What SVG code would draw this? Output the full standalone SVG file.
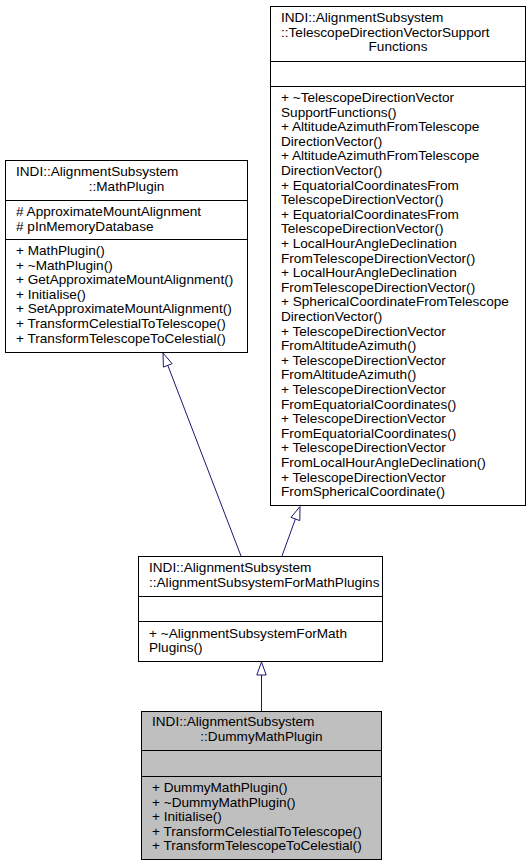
<svg xmlns="http://www.w3.org/2000/svg" width="531" height="867" viewBox="0 0 531 867">
<style>
text{font-family:"Liberation Sans",Arial,Helvetica,sans-serif;font-size:13.6px;fill:#000}
.box{fill:#fff;stroke:#000;stroke-width:1}
.cur{fill:#bfbfbf;stroke:#000;stroke-width:1}
.div{stroke:#000;stroke-width:1;fill:none}
.edge{stroke:#191970;stroke-width:1;fill:none}
.head{fill:#fff;stroke:#191970;stroke-width:1}
.mid{text-anchor:middle}
</style>
<rect width="531" height="867" fill="#fff"/>
<g id="edges">
<line class="edge" x1="241" y1="556" x2="167.8" y2="365.4"/>
<polygon class="head" points="163,353 172.1,363.7 163.4,367.1"/>
<line class="edge" x1="282" y1="556" x2="295.4" y2="519"/>
<polygon class="head" points="300,506.5 299.8,520.6 291,517.4"/>
<line class="edge" x1="261.5" y1="711" x2="261.5" y2="675"/>
<polygon class="head" points="261.5,662 266.2,675 256.8,675"/>
</g>
<g id="MathPlugin">
<rect class="box" x="5.5" y="160.5" width="242" height="192"/>
<line class="div" x1="5.5" y1="200.5" x2="247.5" y2="200.5"/>
<line class="div" x1="5.5" y1="239.5" x2="247.5" y2="239.5"/>
<text x="16" y="176">INDI::AlignmentSubsystem</text>
<text class="mid" x="126.5" y="190.6">::MathPlugin</text>
<text x="16" y="216"># ApproximateMountAlignment<tspan x="16" dy="14.6"># pInMemoryDatabase</tspan></text>
<text x="16" y="255">+ MathPlugin()<tspan x="16" dy="14.6">+ ~MathPlugin()</tspan><tspan x="16" dy="14.6">+ GetApproximateMountAlignment()</tspan><tspan x="16" dy="14.6">+ Initialise()</tspan><tspan x="16" dy="14.6">+ SetApproximateMountAlignment()</tspan><tspan x="16" dy="14.6">+ TransformCelestialToTelescope()</tspan><tspan x="16" dy="14.6">+ TransformTelescopeToCelestial()</tspan></text>
</g>
<g id="TelescopeDirectionVectorSupportFunctions">
<rect class="box" x="270.5" y="6.5" width="255" height="499"/>
<line class="div" x1="270.5" y1="61.5" x2="525.5" y2="61.5"/>
<line class="div" x1="270.5" y1="86.5" x2="525.5" y2="86.5"/>
<text x="281" y="22">INDI::AlignmentSubsystem<tspan x="281" dy="14.6">::TelescopeDirectionVectorSupport</tspan></text>
<text class="mid" x="398" y="51.2">Functions</text>
<text x="281" y="102">+ ~TelescopeDirectionVector<tspan x="281" dy="14.6">SupportFunctions()</tspan><tspan x="281" dy="14.6">+ AltitudeAzimuthFromTelescope</tspan><tspan x="281" dy="14.6">DirectionVector()</tspan><tspan x="281" dy="14.6">+ AltitudeAzimuthFromTelescope</tspan><tspan x="281" dy="14.6">DirectionVector()</tspan><tspan x="281" dy="14.6">+ EquatorialCoordinatesFrom</tspan><tspan x="281" dy="14.6">TelescopeDirectionVector()</tspan><tspan x="281" dy="14.6">+ EquatorialCoordinatesFrom</tspan><tspan x="281" dy="14.6">TelescopeDirectionVector()</tspan><tspan x="281" dy="14.6">+ LocalHourAngleDeclination</tspan><tspan x="281" dy="14.6">FromTelescopeDirectionVector()</tspan><tspan x="281" dy="14.6">+ LocalHourAngleDeclination</tspan><tspan x="281" dy="14.6">FromTelescopeDirectionVector()</tspan><tspan x="281" dy="14.6">+ SphericalCoordinateFromTelescope</tspan><tspan x="281" dy="14.6">DirectionVector()</tspan><tspan x="281" dy="14.6">+ TelescopeDirectionVector</tspan><tspan x="281" dy="14.6">FromAltitudeAzimuth()</tspan><tspan x="281" dy="14.6">+ TelescopeDirectionVector</tspan><tspan x="281" dy="14.6">FromAltitudeAzimuth()</tspan><tspan x="281" dy="14.6">+ TelescopeDirectionVector</tspan><tspan x="281" dy="14.6">FromEquatorialCoordinates()</tspan><tspan x="281" dy="14.6">+ TelescopeDirectionVector</tspan><tspan x="281" dy="14.6">FromEquatorialCoordinates()</tspan><tspan x="281" dy="14.6">+ TelescopeDirectionVector</tspan><tspan x="281" dy="14.6">FromLocalHourAngleDeclination()</tspan><tspan x="281" dy="14.6">+ TelescopeDirectionVector</tspan><tspan x="281" dy="14.6">FromSphericalCoordinate()</tspan></text>
</g>
<g id="AlignmentSubsystemForMathPlugins">
<rect class="box" x="138.5" y="556.5" width="244" height="105"/>
<line class="div" x1="138.5" y1="596.5" x2="382.5" y2="596.5"/>
<line class="div" x1="138.5" y1="621.5" x2="382.5" y2="621.5"/>
<text x="149" y="572">INDI::AlignmentSubsystem<tspan x="149" dy="14.6">::AlignmentSubsystemForMathPlugins</tspan></text>
<text x="149" y="637.5">+ ~AlignmentSubsystemForMath<tspan x="149" dy="14.6">Plugins()</tspan></text>
</g>
<g id="DummyMathPlugin">
<rect class="cur" x="141.5" y="711.5" width="240" height="148"/>
<line class="div" x1="141.5" y1="750.5" x2="381.5" y2="750.5"/>
<line class="div" x1="141.5" y1="776.5" x2="381.5" y2="776.5"/>
<text x="152" y="726">INDI::AlignmentSubsystem</text>
<text class="mid" x="261.5" y="740.6">::DummyMathPlugin</text>
<text x="152" y="792">+ DummyMathPlugin()<tspan x="152" dy="14.6">+ ~DummyMathPlugin()</tspan><tspan x="152" dy="14.6">+ Initialise()</tspan><tspan x="152" dy="14.6">+ TransformCelestialToTelescope()</tspan><tspan x="152" dy="14.6">+ TransformTelescopeToCelestial()</tspan></text>
</g>
</svg>
